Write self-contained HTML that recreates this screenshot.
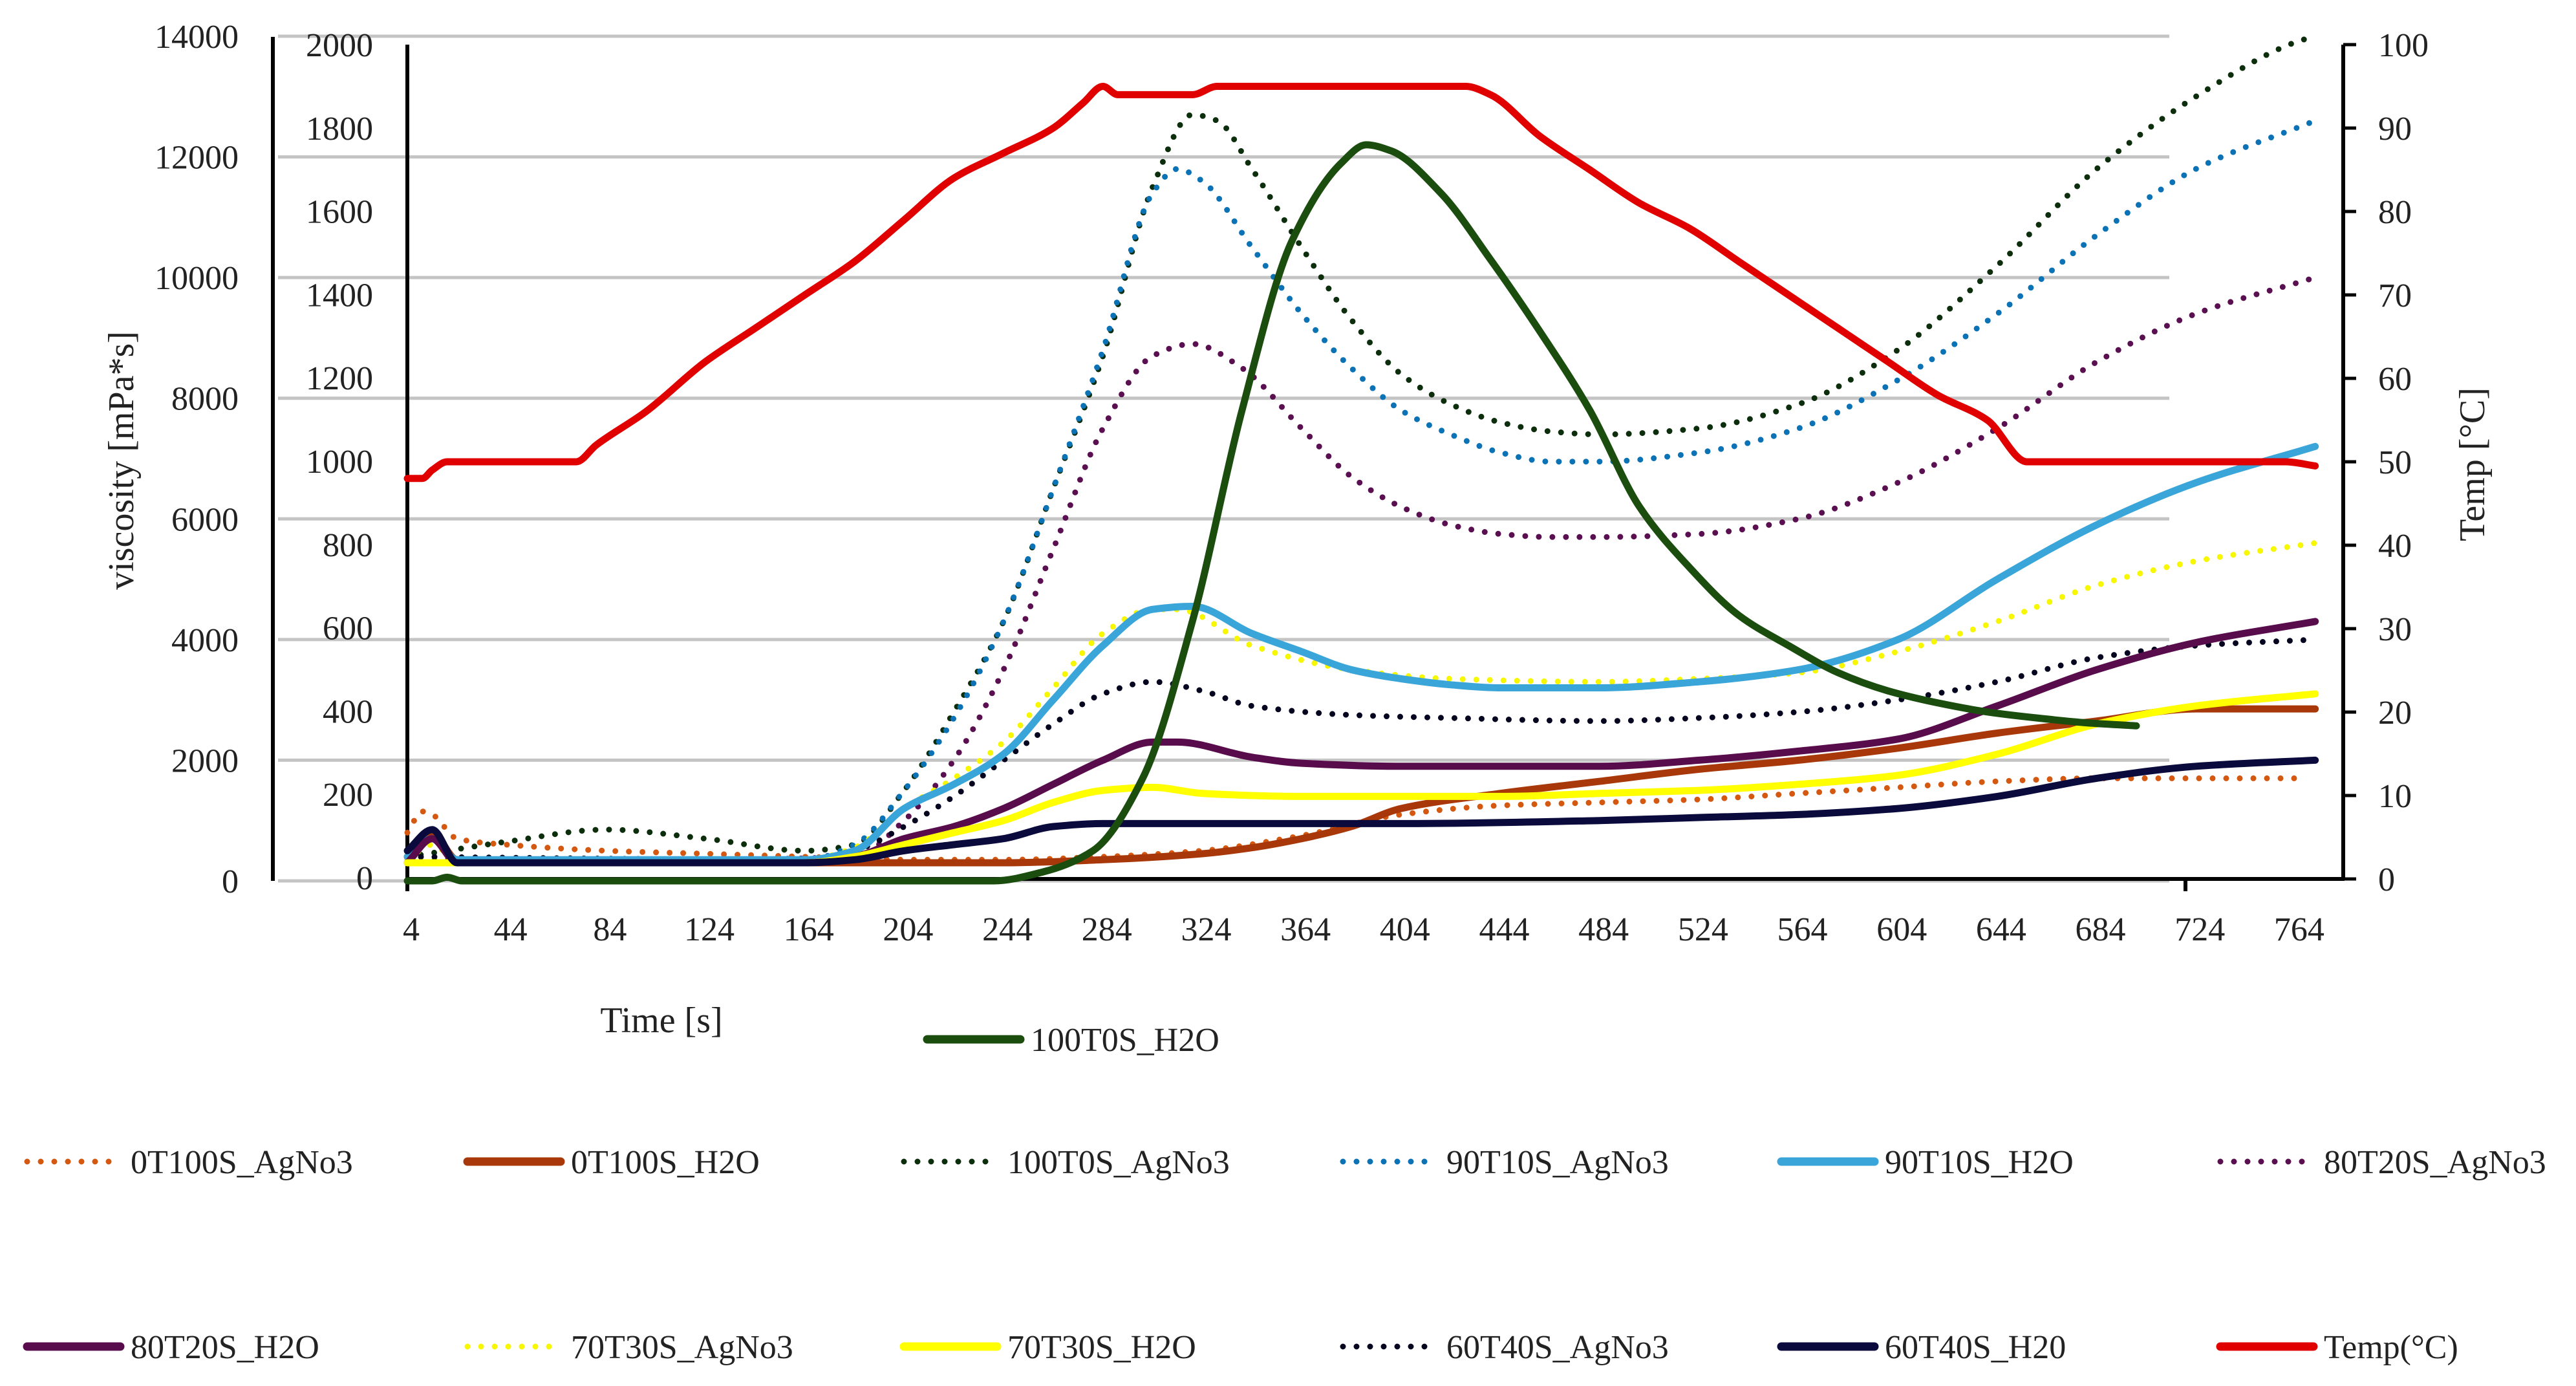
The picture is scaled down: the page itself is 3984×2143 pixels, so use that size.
<!DOCTYPE html>
<html><head><meta charset="utf-8"><style>
html,body{margin:0;padding:0;background:#fff;}
svg{display:block;font-family:"Liberation Serif",serif;}
</style></head><body>
<svg id="chart" width="3984" height="2143" viewBox="0 0 3984 2143" xmlns="http://www.w3.org/2000/svg">
<g id="grid"></g>
<g id="axes"></g>
<g id="series"></g>
<g id="legend"></g>
</svg>
<script>
const xTicks=[4,44,84,124,164,204,244,284,324,364,404,444,484,524,564,604,644,684,724,764];
const leftTicks=[0,2000,4000,6000,8000,10000,12000,14000];
const innerTicks=[0,200,400,600,800,1000,1200,1400,1600,1800,2000];
const rightTicks=[0,10,20,30,40,50,60,70,80,90,100];

const t_0T100S_AgNo3=[4,10,14,24,44,84,124,164,204,244,284,324,364,404,444,484,524,564,604,644,684,764];
const v_0T100S_AgNo3=[800,1150,1100,700,600,500,450,400,350,350,400,500,750,1100,1250,1300,1350,1450,1550,1650,1700,1700];
const t_0T100S_H2O=[4,14,24,164,204,244,284,324,344,364,384,404,444,484,524,564,604,644,684,724,772];
const v_0T100S_H2O=[400,800,350,300,300,300,350,450,550,700,900,1200,1450,1650,1850,2000,2200,2450,2650,2850,2850];
const t_100T0S_AgNo3=[4,20,44,84,124,164,184,204,224,244,264,284,304,320,330,344,364,384,404,424,444,464,484,524,564,604,644,684,724,764,772];
const v_100T0S_AgNo3=[400,500,650,850,700,500,600,1500,2800,4300,6500,8700,11500,12700,12600,11800,10500,9300,8400,7900,7600,7450,7400,7500,7900,8800,10200,11800,13000,13900,14000];
const t_90T10S_AgNo3=[4,20,164,184,204,224,244,264,284,304,314,324,344,364,384,404,424,444,464,484,524,564,604,644,684,724,772];
const v_90T10S_AgNo3=[300,350,350,600,1500,2700,4300,6500,8800,11400,11800,11600,10500,9400,8500,7800,7400,7100,6950,6950,7100,7500,8300,9400,10700,11800,12600];
const t_90T10S_H2O=[4,14,24,164,184,204,224,244,264,284,304,320,344,364,384,404,424,444,484,524,564,604,644,684,724,772];
const v_90T10S_H2O=[400,700,350,350,500,1200,1600,2100,3000,3900,4500,4550,4100,3800,3500,3350,3250,3200,3200,3300,3500,4000,5000,5900,6600,7200];
const t_80T20S_AgNo3=[4,184,204,224,244,264,284,304,320,340,364,384,404,424,444,464,484,524,564,604,644,684,724,772];
const v_80T20S_AgNo3=[300,400,1000,2000,3500,5500,7500,8700,8900,8500,7500,6700,6200,5900,5750,5700,5700,5750,6000,6600,7500,8600,9400,10000];
const t_80T20S_H2O=[4,14,24,164,184,204,224,244,264,284,304,314,344,364,404,484,524,564,604,644,684,724,772];
const v_80T20S_H2O=[300,700,300,300,400,700,900,1200,1600,2000,2300,2300,2050,1950,1900,1900,2000,2150,2350,2900,3500,3950,4300];
const t_70T30S_AgNo3=[4,14,24,164,184,204,224,244,264,284,304,314,344,384,424,484,524,564,604,644,684,724,772];
const v_70T30S_AgNo3=[350,600,350,350,550,1200,1700,2300,3200,4100,4500,4500,3900,3500,3350,3300,3350,3450,3800,4300,4900,5300,5600];
const t_70T30S_H2O=[4,164,184,204,224,244,264,284,304,324,364,444,484,524,564,604,644,684,724,772];
const v_70T30S_H2O=[300,300,400,600,800,1000,1300,1500,1550,1450,1400,1400,1450,1500,1600,1750,2100,2600,2900,3100];
const t_60T40S_AgNo3=[4,164,184,204,224,244,264,284,304,324,344,384,424,484,524,564,604,644,684,724,772];
const v_60T40S_AgNo3=[400,350,500,900,1400,2000,2600,3100,3300,3150,2900,2750,2700,2650,2700,2800,3000,3300,3700,3900,4000];
const t_60T40S_H20=[4,14,24,164,184,204,224,244,264,284,304,404,484,524,564,604,644,684,724,772];
const v_60T40S_H20=[500,850,300,300,350,500,600,700,900,950,950,950,1000,1050,1100,1200,1400,1700,1900,2000];
const t_100T0S_H2O=[4,14,20,26,240,260,280,300,320,340,360,380,390,400,420,440,460,480,500,520,540,560,580,600,620,640,660,680,700];
const v_100T0S_H2O=[0,0,60,0,0,150,500,1700,4300,7800,10600,11900,12200,12100,11400,10300,9100,7800,6200,5200,4400,3900,3450,3150,2950,2800,2700,2620,2570];
const t_temp=[4,10,14,20,72,80,100,124,144,164,184,204,224,244,264,276,284,290,320,330,430,440,460,480,500,520,540,560,580,600,620,640,656,700,760,772];
const v_temp=[48,48,49,50,50,52,56,62,66,70,74,79,84,87,90,93,95,94,94,95,95,94,89,85,81,78,74,70,66,62,58,55,50,50,50,49.5];

const NS="http://www.w3.org/2000/svg";
function mk(tag,attrs,parent){const e=document.createElementNS(NS,tag);for(const k in attrs)e.setAttribute(k,attrs[k]);parent.appendChild(e);return e;}
function X(t){return 630+(t-4)*3.842;}
function YL(v){return 1362-v*1306/14000;}
function YR(T){return 1359-T*12.9;}
function YI(v){return 1357-v*1288/2000;}

const grid=document.getElementById('grid'),axes=document.getElementById('axes'),ser=document.getElementById('series'),leg=document.getElementById('legend');
leftTicks.forEach(v=>{
  const l=mk('line',{x1:430,x2:3355,y1:YL(v),y2:YL(v),stroke:'#c4c4c4','stroke-width':5},grid);
  
  
  const t=mk('text',{x:369,y:YL(v)+18,'text-anchor':'end','font-size':52,fill:'#222'},axes);t.textContent=v;
  
  
});
innerTicks.forEach(v=>{
  const t=mk('text',{x:577,y:YI(v)+18,'text-anchor':'end','font-size':52,fill:'#222'},axes);t.textContent=v;
  
  
});
rightTicks.forEach(v=>{
  const l=mk('line',{x1:3624,x2:3644,y1:YR(v),y2:YR(v),stroke:'#000','stroke-width':5},axes);
  
  
  const t=mk('text',{x:3678,y:YR(v)+18,'font-size':52,fill:'#222'},axes);t.textContent=v;
  
  
});
xTicks.forEach(v=>{
  const t=mk('text',{x:X(v)+6,y:1454,'text-anchor':'middle','font-size':52,fill:'#222'},axes);t.textContent=v;
  
  
});
[[422,57,422,1362,'left-axis-line'],[630,69,630,1378,'inner-axis-line'],[3624,69,3624,1361,'right-axis-line'],[630,1359,3626,1359,'x-axis-line'],[3380,1359,3380,1378,'x-axis-tick']].forEach(a=>{
  const l=mk('line',{x1:a[0],y1:a[1],x2:a[2],y2:a[3],stroke:'#000','stroke-width':6},axes);
  
  
});
let tt=mk('text',{x:0,y:0,'font-size':56,fill:'#222','text-anchor':'middle',transform:'translate(206,712) rotate(-90)'},axes);tt.textContent='viscosity [mPa*s]';


tt=mk('text',{x:0,y:0,'font-size':56,fill:'#222','text-anchor':'middle',transform:'translate(3842,718) rotate(-90)'},axes);tt.textContent='Temp [°C]';


tt=mk('text',{x:1023,y:1596,'font-size':56,fill:'#222','text-anchor':'middle'},axes);tt.textContent='Time [s]';



const defs=[
 ['0T100S_AgNo3',t_0T100S_AgNo3,v_0T100S_AgNo3,'#d4580f',true],
 ['100T0S_AgNo3',t_100T0S_AgNo3,v_100T0S_AgNo3,'#0c2e0c',true],
 ['90T10S_AgNo3',t_90T10S_AgNo3,v_90T10S_AgNo3,'#0b72b5',true],
 ['80T20S_AgNo3',t_80T20S_AgNo3,v_80T20S_AgNo3,'#5a0f50',true],
 ['70T30S_AgNo3',t_70T30S_AgNo3,v_70T30S_AgNo3,'#f7f700',true],
 ['60T40S_AgNo3',t_60T40S_AgNo3,v_60T40S_AgNo3,'#050520',true],
 ['0T100S_H2O',t_0T100S_H2O,v_0T100S_H2O,'#a8380a',false],
 ['90T10S_H2O',t_90T10S_H2O,v_90T10S_H2O,'#3aa5d8',false],
 ['80T20S_H2O',t_80T20S_H2O,v_80T20S_H2O,'#580c4c',false],
 ['70T30S_H2O',t_70T30S_H2O,v_70T30S_H2O,'#ffff00',false],
 ['60T40S_H20',t_60T40S_H20,v_60T40S_H20,'#0a0a3c',false],
 ['100T0S_H2O',t_100T0S_H2O,v_100T0S_H2O,'#1b4d0f',false]
];
// monotone cubic (Fritsch-Carlson) path — no overshoot
function monoPath(P){
  const n=P.length,dx=[],s=[],m=[];
  for(let i=0;i<n-1;i++){dx[i]=P[i+1][0]-P[i][0];s[i]=(P[i+1][1]-P[i][1])/dx[i];}
  m[0]=s[0];m[n-1]=s[n-2];
  for(let i=1;i<n-1;i++){
    if(s[i-1]*s[i]<=0)m[i]=0;
    else{const w1=2*dx[i]+dx[i-1],w2=dx[i]+2*dx[i-1];m[i]=(w1+w2)/(w1/s[i-1]+w2/s[i]);}
  }
  let d='M'+P[0][0].toFixed(1)+','+P[0][1].toFixed(1);
  for(let i=0;i<n-1;i++){
    const h=dx[i]/3;
    d+=' C'+(P[i][0]+h).toFixed(1)+','+(P[i][1]+m[i]*h).toFixed(1)+' '+(P[i+1][0]-h).toFixed(1)+','+(P[i+1][1]-m[i+1]*h).toFixed(1)+' '+P[i+1][0].toFixed(1)+','+P[i+1][1].toFixed(1);
  }
  return d;
}
function drawLine(ts,vs,yf,color,dotted,name){
  const P=ts.map((t,i)=>[X(t),yf(vs[i])]);
  const a={d:monoPath(P),fill:'none',stroke:color,'stroke-linejoin':'round','stroke-linecap':'round'};
  if(dotted){a['stroke-width']=9;a['stroke-dasharray']='0 21';}else{a['stroke-width']=11;}
  const p=mk('path',a,ser);
  
  
}
defs.forEach(d=>drawLine(d[1],d[2],YL,d[3],d[4],'series-'+d[0].toLowerCase()));
drawLine(t_temp,v_temp,YR,'#e00000',false,'series-temp');

const legendItems=[
 ['100T0S_H2O','#1b4d0f',false,1428,1607],
 ['0T100S_AgNo3','#d4580f',true,36,1796],['0T100S_H2O','#a8380a',false,717,1796],['100T0S_AgNo3','#0c2e0c',true,1392,1796],
 ['90T10S_AgNo3','#0b72b5',true,2071,1796],['90T10S_H2O','#3aa5d8',false,2749,1796],['80T20S_AgNo3','#5a0f50',true,3428,1796],
 ['80T20S_H2O','#580c4c',false,36,2082],['70T30S_AgNo3','#f7f700',true,717,2082],['70T30S_H2O','#ffff00',false,1392,2082],
 ['60T40S_AgNo3','#050520',true,2071,2082],['60T40S_H20','#0a0a3c',false,2749,2082],['Temp(°C)','#e00000',false,3428,2082]
];
legendItems.forEach(it=>{
  const g=mk('g',{},leg);
  
  
  const a={x1:it[3]+6,x2:it[3]+150,y1:it[4],y2:it[4],stroke:it[1],'stroke-linecap':'round'};
  if(it[2]){a['stroke-width']=9;a['stroke-dasharray']='0 21';}else{a['stroke-width']=13;}
  const l=mk('line',a,g);
  
  
  const t=mk('text',{x:it[3]+166,y:it[4]+18,'font-size':52,fill:'#222'},g);t.textContent=it[0];
  
  
});
</script>
</body></html>
